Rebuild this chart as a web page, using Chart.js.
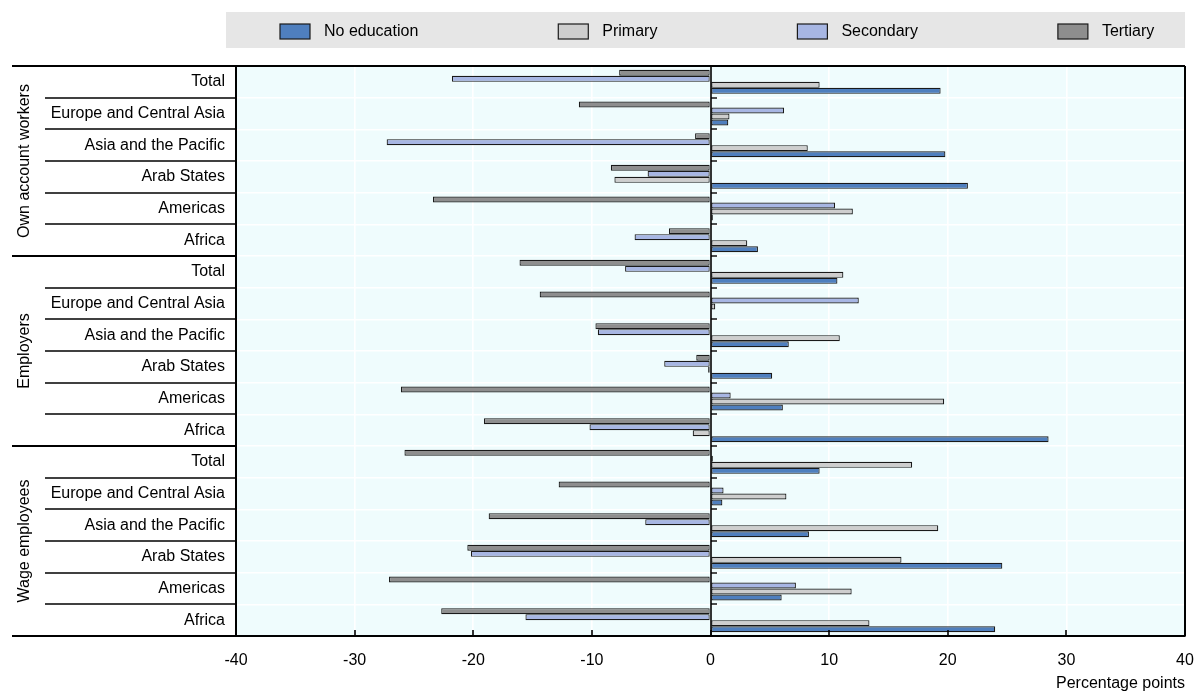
<!DOCTYPE html>
<html>
<head>
<meta charset="utf-8">
<script src="https://cdn.jsdelivr.net/npm/chart.js@4.4.1/dist/chart.umd.min.js"></script>
<style>
  html, body { margin: 0; padding: 0; background: #fff; }
</style>
</head>
<body>
<canvas id="chart" width="1196" height="691"></canvas>
<script>
// data, percentage points
const groups = ["Own account workers", "Employers", "Wage employees"]
const regions = ["Total", "Europe and Central Asia", "Asia and the Pacific", "Arab States", "Americas", "Africa"]
const labels = groups.flatMap(() => regions)

const noEducation = [19.4, 1.5, 19.8, 21.7, 0.2, 4.0, 10.7, 0, 6.6, 5.2, 6.1, 28.5, 9.2, 1.0, 8.3, 24.6, 6.0, 24.0]
const primary = [9.2, 1.6, 8.2, -8.1, 12.0, 3.1, 11.2, 0.4, 10.9, -0.2, 19.7, -1.5, 17.0, 6.4, 19.2, 16.1, 11.9, 13.4]
const secondary = [-21.8, 6.2, -27.3, -5.3, 10.5, -6.4, -7.2, 12.5, -9.5, -3.9, 1.7, -10.2, 0.2, 1.1, -5.5, -20.2, 7.2, -15.6]
const tertiary = [-7.7, -11.1, -1.3, -8.4, -23.4, -3.5, -16.1, -14.4, -9.7, -1.2, -26.1, -19.1, -25.8, -12.8, -18.7, -20.5, -27.1, -22.7]

const seriesNames = ["No education", "Primary", "Secondary", "Tertiary"]
const seriesColors = ["#4f7fbe", "#cecece", "#a7b6e3", "#8e8e8e"]
const xTicks = [-40, -30, -20, -10, 0, 10, 20, 30, 40]
const xTitle = "Percentage points"

// no narrow face installed, so a smaller regular one keeps the widths
const FONT = "'Liberation Sans', Arial, sans-serif"
const FS = 16
const plotBg = "#effcfd"

Chart.defaults.font.family = FONT
Chart.defaults.font.size = FS
Chart.defaults.color = "#000"

function makeSet(i, values) {
    return {
        label: seriesNames[i],
        data: values,
        backgroundColor: seriesColors[i],
        borderColor: "#1a1a1a",
        borderWidth: 1.2,
        borderSkipped: false,
        categoryPercentage: 0.76,
        barPercentage: 1
    }
}

// bars are drawn top to bottom: tertiary, secondary, primary, no education
const datasets = [
    makeSet(3, tertiary),
    makeSet(2, secondary),
    makeSet(1, primary),
    makeSet(0, noEducation)
]

const decorations = {
    id: "decorations",
    beforeDraw(chart) {
        const { ctx, chartArea: a } = chart
        ctx.save()
        ctx.fillStyle = plotBg
        ctx.fillRect(a.left, a.top, a.right - a.left, a.bottom - a.top)
        ctx.restore()
    },
    afterDraw(chart) {
        const { ctx, chartArea: a, scales } = chart
        const x = scales.x, y = scales.y
        ctx.save()
        ctx.strokeStyle = "#000"

        // separators in the label column
        for (let i = 0; i <= labels.length; i++) {
            const py = Math.round(y.getPixelForValue(i - 0.5))
            const edge = i % regions.length === 0
            ctx.lineWidth = edge ? 2.2 : 1.6
            ctx.beginPath()
            ctx.moveTo(edge ? 12 : 45, py)
            ctx.lineTo(edge && (i === 0 || i === labels.length) ? a.right : a.left, py)
            ctx.stroke()
        }

        // right border
        ctx.lineWidth = 2
        ctx.beginPath()
        ctx.moveTo(a.right, a.top)
        ctx.lineTo(a.right, a.bottom)
        ctx.stroke()

        // zero line with small ticks
        const x0 = Math.round(x.getPixelForValue(0))
        ctx.lineWidth = 1.6
        ctx.beginPath()
        ctx.moveTo(x0, a.top)
        ctx.lineTo(x0, a.bottom)
        ctx.stroke()
        ctx.lineWidth = 1.4
        for (let i = 1; i < labels.length; i++) {
            const py = Math.round(y.getPixelForValue(i - 0.5))
            ctx.beginPath()
            ctx.moveTo(x0, py)
            ctx.lineTo(x0 + 6, py)
            ctx.stroke()
        }

        // inner ticks on the bottom axis
        ctx.lineWidth = 1.6
        xTicks.forEach(v => {
            const px = Math.round(x.getPixelForValue(v))
            ctx.beginPath()
            ctx.moveTo(px, a.bottom)
            ctx.lineTo(px, a.bottom - 6)
            ctx.stroke()
        })

        // group names, turned
        ctx.fillStyle = "#000"
        ctx.font = FS + "px " + FONT
        ctx.textAlign = "center"
        ctx.textBaseline = "middle"
        groups.forEach((g, gi) => {
            const top = y.getPixelForValue(gi * regions.length - 0.5)
            const bottom = y.getPixelForValue((gi + 1) * regions.length - 0.5)
            ctx.save()
            ctx.translate(25, (top + bottom) / 2)
            ctx.rotate(-Math.PI / 2)
            ctx.fillText(g, 0, 0)
            ctx.restore()
        })

        // legend
        ctx.fillStyle = "#e6e6e6"
        ctx.fillRect(226, 12, a.right - 226, 36)
        ctx.textAlign = "left"
        let lx = 280
        seriesNames.forEach((name, i) => {
            ctx.fillStyle = seriesColors[i]
            ctx.fillRect(lx, 24, 30, 15)
            ctx.lineWidth = 1.2
            ctx.strokeStyle = "#1a1a1a"
            ctx.strokeRect(lx, 24, 30, 15)
            ctx.fillStyle = "#000"
            ctx.fillText(name, lx + 44, 32)
            lx += 44 + ctx.measureText(name).width + 140
        })
        ctx.restore()
    }
}

new Chart(document.getElementById("chart"), {
    type: "bar",
    data: { labels: labels, datasets: datasets },
    plugins: [decorations],
    options: {
        indexAxis: "y",
        responsive: false,
        animation: false,
        layout: { padding: { top: 66, right: 11, left: 0, bottom: 0 } },
        plugins: {
            legend: { display: false },
            tooltip: { enabled: false }
        },
        scales: {
            x: {
                min: -40,
                max: 40,
                afterBuildTicks: axis => { axis.ticks = xTicks.map(v => ({ value: v })) },
                afterFit: axis => {
                    axis.height = 55
                    axis.paddingLeft = 0
                    axis.paddingRight = 0
                },
                grid: { color: "#ffffff", lineWidth: 1.6, drawTicks: false },
                border: { color: "#000", width: 2 },
                ticks: { padding: 15, font: { size: FS } },
                title: {
                    display: true,
                    text: xTitle,
                    align: "end",
                    font: { size: FS },
                    padding: { top: 0, bottom: -2 }
                }
            },
            y: {
                afterFit: axis => { axis.width = 236 },
                grid: { color: "#ffffff", lineWidth: 1.6, drawTicks: false },
                border: { color: "#000", width: 2 },
                ticks: { padding: 11, font: { size: FS }, autoSkip: false }
            }
        }
    }
})
</script>
</body>
</html>
